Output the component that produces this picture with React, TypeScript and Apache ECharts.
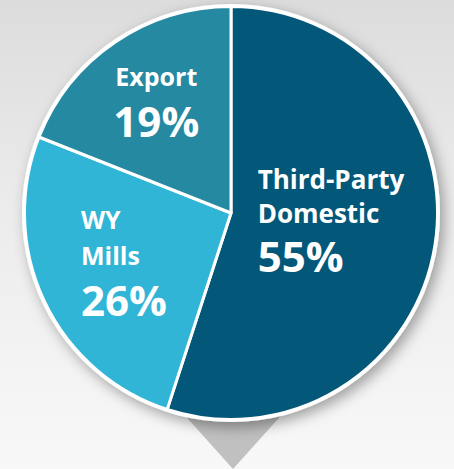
import React, { useEffect, useRef } from "react";
import * as echarts from "echarts";

const categories = ["Third-Party\nDomestic", "WY\nMills", "Export"];
const values = [55, 26, 19];
const colors = ["#03587a", "#31b5d7", "#2589a1"];
const labelOffsets = [[-5, -8], [-11, 5], [-15, -23]];
const nameStyles = ["nA", "nB", "nC"];

export default function App() {
  const ref = useRef<HTMLDivElement>(null);
  useEffect(() => {
    const chart = echarts.init(ref.current!, undefined, { renderer: "svg" });
    const font = "'Open Sans', 'Noto Sans', sans-serif";
    const data = categories.map((name, i) => ({
      name,
      value: values[i],
      itemStyle: { color: colors[i] },
      label: { offset: labelOffsets[i] },
    }));
    chart.setOption({
      animation: false,
      graphic: [
        {
          type: "polygon",
          z: 0,
          shape: { points: [[180, 410], [286, 410], [233, 469]] },
          style: { fill: "#c0c0c0" },
        },
      ],
      series: [
        {
          type: "pie",
          silent: true,
          center: [231, 213],
          radius: 209,
          z: 1,
          label: { show: false },
          labelLine: { show: false },
          itemStyle: {
            color: "#ffffff",
            shadowBlur: 14,
            shadowOffsetX: 4,
            shadowOffsetY: 5,
            shadowColor: "rgba(0,0,0,0.35)",
          },
          data: [{ value: 1, name: "bg" }],
        },
        {
          type: "pie",
          center: [231, 213],
          radius: 206.5,
          startAngle: 90,
          clockwise: true,
          z: 2,
          itemStyle: { borderColor: "#ffffff", borderWidth: 3 },
          labelLine: { show: false },
          label: {
            show: true,
            position: "inside",
            color: "#ffffff",
            fontFamily: font,
            fontWeight: "bold",
            formatter: (p: any) => {
              const st = nameStyles[p.dataIndex];
              const lines = String(p.name).split("\n").map((l) => `{${st}|${l}}`);
              return lines.join("\n") + `\n{p|${Math.round(p.percent)}%}`;
            },
            rich: {
              nA: { fontSize: 26, lineHeight: 34, fontWeight: "bold", fontFamily: font, color: "#fff", align: "left" },
              nB: { fontSize: 25, lineHeight: 36, fontWeight: "bold", fontFamily: font, color: "#fff", align: "left" },
              nC: { fontSize: 25, lineHeight: 36, fontWeight: "bold", fontFamily: font, color: "#fff", align: "center" },
              p: { fontSize: 42, lineHeight: 52, fontWeight: "bold", fontFamily: font, color: "#fff", align: "left" },
            },
          },
          data,
        },
      ],
    });
    return () => chart.dispose();
  }, []);
  return (
    <div
      ref={ref}
      style={{
        position: "fixed",
        left: 0,
        top: 0,
        width: 454,
        height: 469,
        background: "linear-gradient(to bottom, #dcdcdc 0%, #ececec 45%, #f8f8f8 100%)",
      }}
    />
  );
}
